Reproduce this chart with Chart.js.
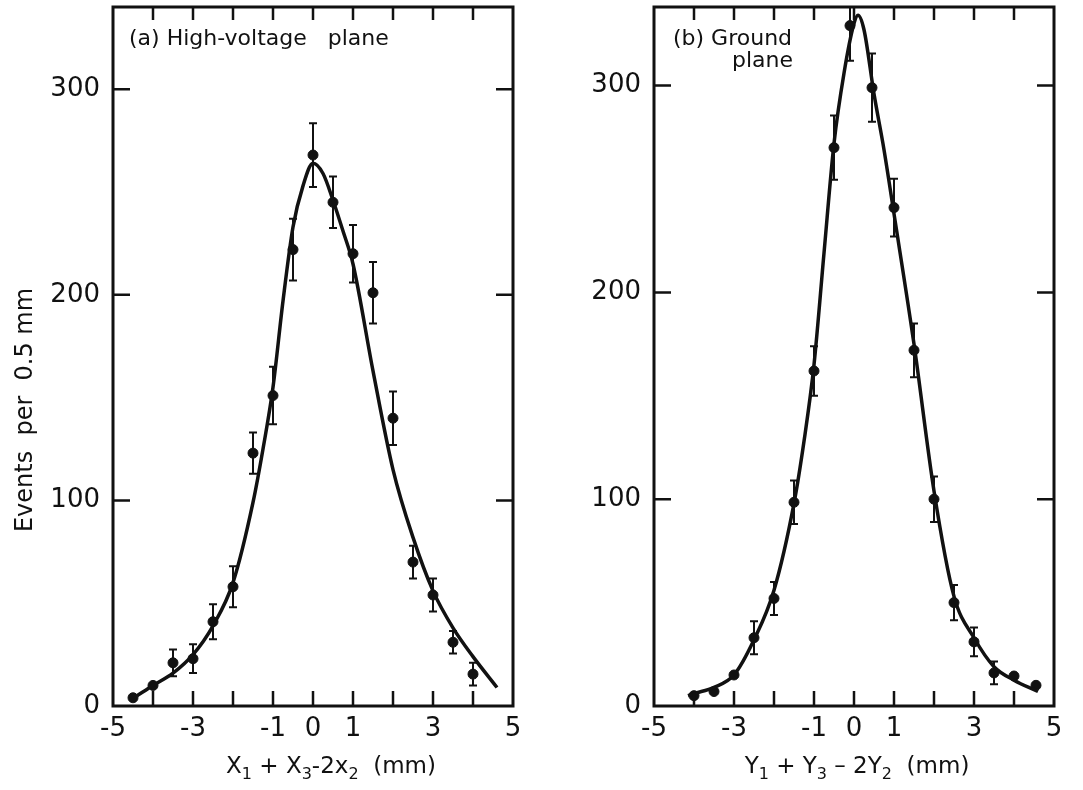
<!DOCTYPE html>
<html>
<head>
  <title>Position resolution</title>
  <script src="https://cdn.jsdelivr.net/npm/chart.js"></script>
  <style>
    body { margin: 0; background: #fff; }
    #wrap { position: relative; width: 1083px; height: 790px; }
    canvas { position: absolute; top: 0; }
    #chartA { left: 0; }
    #chartB { left: 540px; }
  </style>
</head>
<body>
<div id="wrap">
  <canvas id="chartA" width="540" height="790"></canvas>
  <canvas id="chartB" width="543" height="790"></canvas>
</div>
<script>
// panel (a) high-voltage plane
const aX    = [-4.5, -4, -3.5, -3, -2.5, -2, -1.5, -1, -0.5, 0, 0.5, 1, 1.5, 2, 2.5, 3, 3.5, 4];
const aY    = [4, 10, 21, 23, 41, 58, 123, 151, 222, 268, 245, 220, 201, 140, 70, 54, 31, 15.5];
const aErr  = [0, 0, 6.5, 7, 8.5, 10, 10, 14, 15, 15.5, 12.5, 14, 15, 13, 8, 8, 5.5, 5.5];
const aFitX = [-4.4, -4, -3.5, -3, -2.5, -2, -1.5, -1.25, -1, -0.75, -0.5, -0.25, 0, 0.25, 0.5, 0.75, 1, 1.5, 2, 2.5, 3, 3.5, 4, 4.6];
const aFitY = [5, 10, 16, 25, 39, 60, 99, 125, 155, 197, 233, 253, 264, 259, 246, 231, 215, 163, 115, 82, 56, 38, 24, 9];

// panel (b) ground plane
const bX    = [-4, -3.5, -3, -2.5, -2, -1.5, -1, -0.5, -0.1, 0.45, 1, 1.5, 2, 2.5, 3, 3.5, 4, 4.55];
const bY    = [5, 7, 15, 33, 52, 98.5, 162, 270, 329, 299, 241, 172, 100, 50, 31, 16, 14.5, 10];
const bErr  = [0, 0, 0, 8, 8, 10.5, 12, 15.5, 17, 16.5, 14, 13, 11, 8.5, 7, 5.5, 0, 0];
const bFitX = [-4.15, -4, -3.5, -3, -2.5, -2, -1.5, -1.25, -1, -0.75, -0.5, -0.25, 0, 0.1, 0.25, 0.5, 0.75, 1, 1.5, 2, 2.5, 3, 3.5, 4, 4.6];
const bFitY = [5, 6, 9, 15, 32, 56, 98, 128, 165, 219, 272, 306, 330, 334, 327, 296, 269, 238, 175, 104, 53, 33, 19, 12.5, 7];

const xLabelled = [-5, -3, -1, 0, 1, 3, 5];
const yTicks = [100, 200, 300];

const FONT = '"DejaVu Sans", sans-serif';
const INK = '#111';

const zip = (xs, ys) => xs.map((x, i) => ({x: x, y: ys[i]}));

// box round the plot + inward tick marks
const framePlugin = {
  id: 'frame',
  afterDraw(chart) {
    const {ctx, chartArea: a, scales} = chart;
    ctx.save();
    ctx.strokeStyle = INK;
    ctx.lineWidth = 3;
    ctx.strokeRect(a.left, a.top, a.right - a.left, a.bottom - a.top);
    ctx.lineWidth = 2.5;
    ctx.beginPath();
    scales.x.ticks.forEach(t => {
      if (t.value <= -5 || t.value >= 5) return;
      const px = scales.x.getPixelForValue(t.value);
      ctx.moveTo(px, a.bottom); ctx.lineTo(px, a.bottom - 15);
      ctx.moveTo(px, a.top); ctx.lineTo(px, a.top + 13);
    });
    yTicks.forEach(v => {
      const py = scales.y.getPixelForValue(v);
      ctx.moveTo(a.left, py); ctx.lineTo(a.left + 17, py);
      ctx.moveTo(a.right, py); ctx.lineTo(a.right - 17, py);
    });
    ctx.stroke();
    ctx.restore();
  }
};

// vertical error bars with small caps, clipped to the plot box
const errorBarPlugin = {
  id: 'errbars',
  beforeDatasetsDraw(chart) {
    const {ctx, scales, chartArea: a} = chart;
    ctx.save();
    ctx.beginPath();
    ctx.rect(a.left, a.top, a.right - a.left, a.bottom - a.top);
    ctx.clip();
    ctx.strokeStyle = INK;
    ctx.lineWidth = 2;
    chart.data.datasets.forEach(ds => {
      if (!ds.errors) return;
      ds.data.forEach((p, i) => {
        const e = ds.errors[i];
        if (!e) return;
        const px = scales.x.getPixelForValue(p.x);
        const hi = scales.y.getPixelForValue(p.y + e);
        const lo = scales.y.getPixelForValue(p.y - e);
        ctx.beginPath();
        ctx.moveTo(px, hi); ctx.lineTo(px, lo);
        ctx.moveTo(px - 4, hi); ctx.lineTo(px + 4, hi);
        ctx.moveTo(px - 4, lo); ctx.lineTo(px + 4, lo);
        ctx.stroke();
      });
    });
    ctx.restore();
  }
};

// text runs: [text, isSubscript]
function drawRuns(ctx, runs, cx, baseline, size) {
  const fontFor = sub => (sub ? Math.round(size * 0.7) : size) + 'px ' + FONT;
  let total = 0;
  runs.forEach(r => { ctx.font = fontFor(r[1]); total += ctx.measureText(r[0]).width; });
  let x = cx - total / 2;
  ctx.textAlign = 'left';
  ctx.textBaseline = 'alphabetic';
  runs.forEach(r => {
    ctx.font = fontFor(r[1]);
    ctx.fillText(r[0], x, baseline + (r[1] ? 6 : 0));
    x += ctx.measureText(r[0]).width;
  });
}

const notesPlugin = {
  id: 'notes',
  afterDraw(chart, args, opts) {
    const {ctx} = chart;
    ctx.save();
    ctx.fillStyle = INK;
    ctx.textBaseline = 'alphabetic';
    ctx.textAlign = 'left';
    ctx.font = '22px ' + FONT;
    (opts.lines || []).forEach(l => ctx.fillText(l.text, l.x, l.y));
    if (opts.yTitle) {
      ctx.save();
      ctx.translate(opts.yTitle.x, opts.yTitle.y);
      ctx.rotate(-Math.PI / 2);
      ctx.textAlign = 'center';
      ctx.font = '24px ' + FONT;
      ctx.fillText(opts.yTitle.text, 0, 0);
      ctx.restore();
    }
    if (opts.xTitle) drawRuns(ctx, opts.xTitle.runs, opts.xTitle.x, opts.xTitle.y, 23);
    ctx.restore();
  }
};

// keep the plot box where the reference has it: no label overflow padding
const noPad = s => { s.paddingTop = 0; s.paddingBottom = 0; s.paddingLeft = 0; s.paddingRight = 0; };

function makeChart(id, pts, errs, fit, yMax, yWidth, padRight, notes) {
  return new Chart(document.getElementById(id), {
    type: 'scatter',
    data: {
      datasets: [
        {
          data: fit,
          showLine: true,
          borderColor: INK,
          borderWidth: 3.5,
          pointRadius: 0,
          cubicInterpolationMode: 'monotone',
          fill: false
        },
        {
          data: pts,
          errors: errs,
          pointRadius: 5,
          pointBackgroundColor: INK,
          pointBorderColor: INK,
          pointBorderWidth: 1
        }
      ]
    },
    options: {
      responsive: false,
      animation: false,
      layout: { padding: { left: 0, right: padRight, top: 7, bottom: 0 } },
      scales: {
        x: {
          type: 'linear',
          min: -5,
          max: 5,
          grid: { display: false, drawTicks: false },
          border: { display: false },
          ticks: {
            stepSize: 1,
            autoSkip: false,
            maxRotation: 0,
            padding: 8,
            color: INK,
            font: { family: FONT, size: 26 },
            callback: v => xLabelled.includes(v) ? String(v) : ''
          },
          afterFit: s => { s.height = 84; noPad(s); }
        },
        y: {
          min: 0,
          max: yMax,
          grid: { display: false, drawTicks: false },
          border: { display: false },
          ticks: {
            stepSize: 100,
            includeBounds: false,
            padding: 13,
            color: INK,
            font: { family: FONT, size: 26 }
          },
          afterFit: s => { s.width = yWidth; noPad(s); }
        }
      },
      plugins: {
        legend: { display: false },
        tooltip: { enabled: false },
        notes: notes
      }
    },
    plugins: [errorBarPlugin, framePlugin, notesPlugin]
  });
}

makeChart('chartA', zip(aX, aY), aErr, zip(aFitX, aFitY), 340, 113, 27, {
  lines: [{text: '(a) High-voltage   plane', x: 129, y: 45}],
  yTitle: {text: 'Events  per  0.5 mm', x: 32, y: 410},
  xTitle: {x: 331, y: 773, runs: [['X', 0], ['1', 1], [' + X', 0], ['3', 1], ['-2x', 0], ['2', 1], ['  (mm)', 0]]}
});

makeChart('chartB', zip(bX, bY), bErr, zip(bFitX, bFitY), 338, 114, 29, {
  lines: [{text: '(b) Ground', x: 133, y: 45}, {text: 'plane', x: 192, y: 67}],
  xTitle: {x: 317, y: 773, runs: [['Y', 0], ['1', 1], [' + Y', 0], ['3', 1], [' \u2013 2Y', 0], ['2', 1], ['  (mm)', 0]]}
});
</script>
</body>
</html>
